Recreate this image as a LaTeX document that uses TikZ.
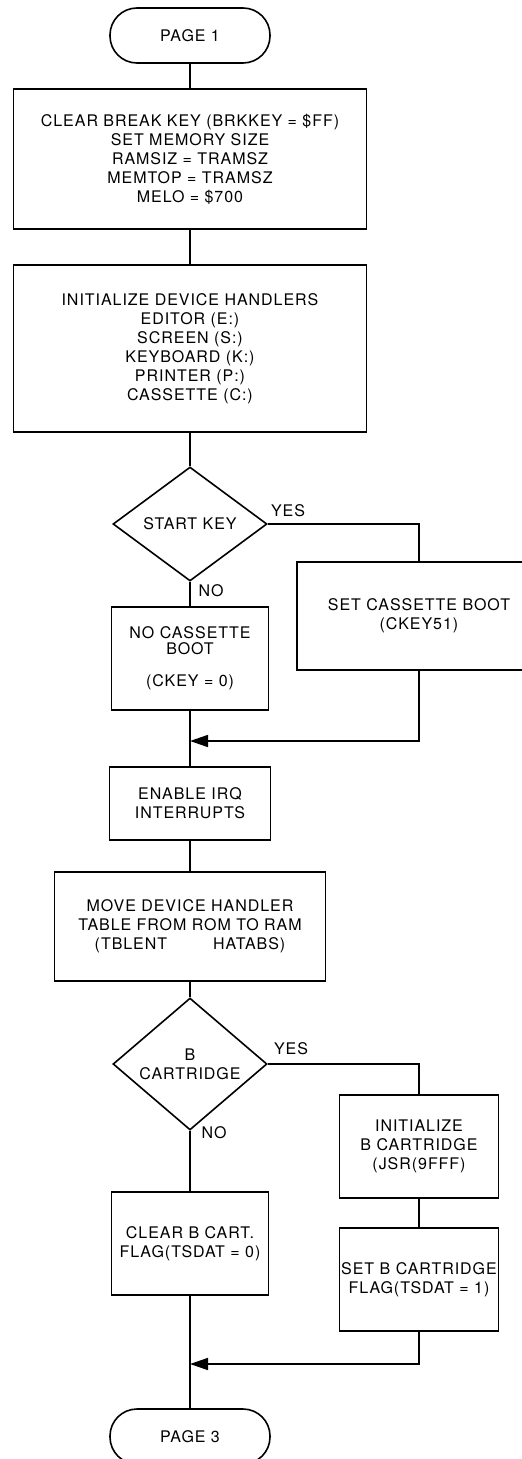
\documentclass[tikz,border=0pt]{standalone}
\usepackage{fontspec}
\setmainfont{TeX Gyre Heros}[LetterSpace=6]
\usepackage{tikz}
\usetikzlibrary{arrows.meta}
\usetikzlibrary{shapes.geometric}
\tikzset{every node/.style={font=\fontsize{16}{19}\selectfont, inner sep=0pt, align=center}}
\tikzset{procbox/.style={draw, rectangle},
	decision/.style={draw, diamond, minimum width=154pt, minimum height=114pt},
	terminal/.style={draw, rectangle, rounded corners=27pt, minimum width=160pt, minimum height=55pt},
	mergearrow/.style={-{Triangle[length=18pt,width=12pt]}}}

\begin{document}
\begin{tikzpicture}[x=1pt, y=-1pt, line width=1.6pt]
		\useasboundingbox (0,0) rectangle (522,1459);
		\node[terminal] (page1) at (190,35.5) {PAGE 1};
		\node[procbox, minimum width=353pt, minimum height=140pt] (init) at (190,159) {CLEAR BREAK KEY (BRKKEY = \$FF)\\SET MEMORY SIZE\\RAMSIZ = TRAMSZ\\MEMTOP = TRAMSZ\\MELO = \$700};
		\node[procbox, minimum width=353pt, minimum height=167pt] (devs) at (190,348.5) {INITIALIZE DEVICE HANDLERS\\EDITOR (E:)\\SCREEN (S:)\\KEYBOARD (K:)\\PRINTER (P:)\\CASSETTE (C:)};
		\node[decision] (startkey) at (190,524) {START KEY};
		\node[procbox, minimum width=244pt, minimum height=108pt] (setboot) at (419,616) {SET CASSETTE BOOT\\(CKEY51)};
		\node[procbox, minimum width=157pt, minimum height=103pt] (noboot) at (190,658.5) {NO CASSETTE\\[-3pt]BOOT\\[13pt](CKEY = 0)};
		\coordinate (m1) at (190,741);
		\node[procbox, minimum width=161pt, minimum height=73pt] (irq) at (190,803.5) {ENABLE IRQ\\INTERRUPTS};
		\node[procbox, minimum width=271pt, minimum height=109pt] (movetab) at (190,926.5) {MOVE DEVICE HANDLER\\TABLE FROM ROM TO RAM\\(TBLENT \hspace{2.2em} HATABS)};
		\node[decision] (bcart) at (190,1064) {B\\CARTRIDGE};
		\node[procbox, minimum width=159pt, minimum height=103pt] (initb) at (419,1146.5) {INITIALIZE\\B CARTRIDGE\\(JSR(9FFF)};
		\node[procbox, minimum width=157pt, minimum height=103pt] (clearb) at (190,1243.5) {CLEAR B CART.\\FLAG(TSDAT = 0)};
		\node[procbox, minimum width=159pt, minimum height=103pt] (setb) at (419,1279.5) {SET B CARTRIDGE\\FLAG(TSDAT = 1)};
		\coordinate (m2) at (190,1364);
		\node[terminal] (page3) at (190,1436.5) {PAGE 3};
		\node (yes1) at (288,511) {YES};
		\node (no1) at (211,591) {NO};
		\node (yes2) at (291,1049) {YES};
		\node (no2) at (214,1133) {NO};
		\draw (page1) -- (init);
		\draw (init) -- (devs);
		\draw (devs) -- (startkey);
		\draw (startkey.east) -| (setboot.north);
		\draw (startkey) -- (noboot);
		\draw (noboot) -- (irq);
		\draw[mergearrow] (setboot.south) |- (m1);
		\draw (irq) -- (movetab);
		\draw (movetab) -- (bcart);
		\draw (bcart.east) -| (initb.north);
		\draw (initb) -- (setb);
		\draw (bcart) -- (clearb);
		\draw (clearb) -- (page3);
		\draw[mergearrow] (setb.south) |- (m2);
		\end{tikzpicture}
\end{document}
